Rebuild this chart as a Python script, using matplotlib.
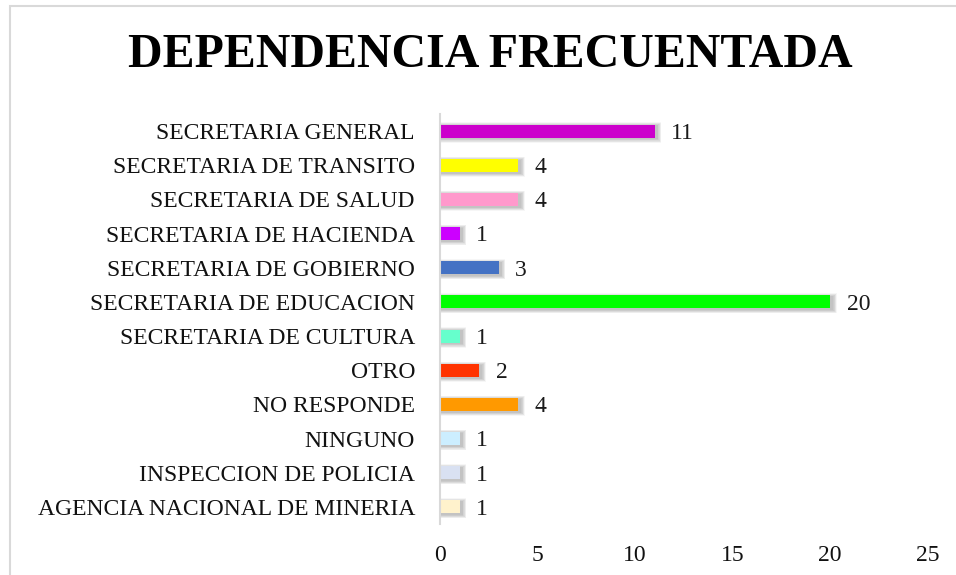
import matplotlib.pyplot as plt
from matplotlib.patches import Rectangle

# data (bottom to top as drawn)
categorias = [
    "AGENCIA NACIONAL DE MINERIA",
    "INSPECCION DE POLICIA",
    "NINGUNO",
    "NO RESPONDE",
    "OTRO",
    "SECRETARIA DE CULTURA",
    "SECRETARIA DE EDUCACION",
    "SECRETARIA DE GOBIERNO",
    "SECRETARIA DE HACIENDA",
    "SECRETARIA DE SALUD",
    "SECRETARIA DE TRANSITO",
    "SECRETARIA GENERAL",
]
valores = [1, 1, 1, 4, 2, 1, 20, 3, 1, 4, 4, 11]
colores = [
    "#fff2cc", "#d9e1f2", "#cceeff", "#ff9900", "#ff3300", "#66ffcc",
    "#00ff00", "#4472c4", "#cc00ff", "#ff99cc", "#ffff00", "#cc00cc",
]
ticks_x = [0, 5, 10, 15, 20, 25]

plt.rcParams['font.family'] = ['Liberation Serif', 'DejaVu Serif']

W, H = 956, 575
fig = plt.figure(figsize=(W / 100, H / 100), dpi=100)

# light frame around the chart
fig.patches.append(Rectangle((10 / W, -0.05), 1.1, 1 - 6 / H + 0.05,
                             transform=fig.transFigure, fill=False,
                             edgecolor="#d9d9d9", linewidth=1.5))

ax = fig.add_axes([440 / W, 1 - 524 / H, (927.5 - 440) / W, (524 - 114) / H])
pos = list(range(len(categorias)))
alto = 0.38

# soft shadow behind each bar (stacked translucent layers)
for k in range(7):
    grow = (7 - k) * 0.03
    ax.barh([p - 0.04 for p in pos], [v + 0.15 + grow * 0.9 for v in valores],
            height=alto + grow, color="black", alpha=0.035, linewidth=0,
            zorder=1)

ax.barh(pos, valores, height=alto, color=colores, linewidth=0, zorder=3)

for p, v in zip(pos, valores):
    ax.text(v + 0.85, p - 0.07, str(v), va="center", ha="left", fontsize=17,
            color="#1a1a1a", zorder=4)

ax.set_xlim(0, 25)
ax.set_ylim(-0.5, len(categorias) - 0.5)
ax.set_yticks(pos)
ax.set_yticklabels(categorias, fontsize=17, color="#111111")
ax.set_xticks(ticks_x)
ax.set_xticklabels([str(t) for t in ticks_x], fontsize=17, color="#111111")
ax.tick_params(axis="both", length=0)
ax.tick_params(axis="y", pad=18)
ax.tick_params(axis="x", pad=15)

for side in ["top", "right", "bottom"]:
    ax.spines[side].set_visible(False)
ax.spines["left"].set_color("#d9d9d9")
ax.spines["left"].set_linewidth(1.5)
ax.spines["left"].set_zorder(5)

fig.text(490 / W, 1 - 55 / H, "DEPENDENCIA FRECUENTADA", ha="center",
         va="center", fontsize=34.5, fontweight="bold", color="black")

fig.savefig("out.png", dpi=100)
